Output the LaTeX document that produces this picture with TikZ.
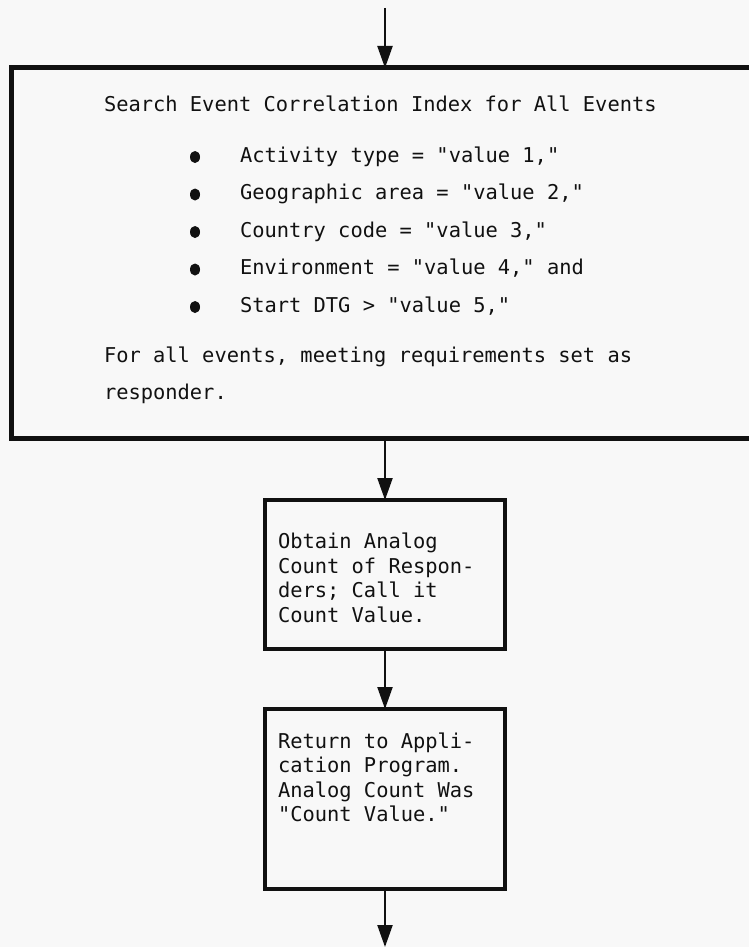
\documentclass[tikz,border=0pt]{standalone}
\usepackage{fontspec}
\setmonofont{DejaVu Sans Mono}
\usetikzlibrary{arrows.meta}
\definecolor{paper}{HTML}{F8F8F8}
\definecolor{ink}{HTML}{111111}
\tikzset{
  boxbig/.style={draw=ink, line width=5pt, rectangle, inner sep=0pt, outer sep=0pt},
  boxsmall/.style={draw=ink, line width=4pt, rectangle, inner sep=0pt, outer sep=0pt, minimum width=240pt},
  txt/.style={anchor=base west, inner sep=0pt, outer sep=0pt, text=ink, font=\fontsize{20.4pt}{24pt}\ttfamily},
  arr/.style={draw=ink, line width=2.2pt, -{Triangle[length=22pt, width=15pt]}},
  dotmark/.style={fill=ink}
}
\begin{document}
\begin{tikzpicture}[x=1pt, y=-1pt]
\useasboundingbox (0,0) rectangle (749,947);
\fill[paper] (0,0) rectangle (749,947);
\clip (0,0) rectangle (749,947);
% boxes
\node[boxbig, minimum width=790pt, minimum height=370pt] (box1) at (406,253) {};
\node[boxsmall, minimum height=149pt] (box2) at (385,574.5) {};
\node[boxsmall, minimum height=180pt] (box3) at (385,799) {};
% arrow endpoints
\coordinate (start) at (385,8);
\coordinate (finish) at (385,947);
% connectors
\draw[arr] (start) -- (start |- box1.north);
\draw[arr] (box1.south -| box2.north) -- (box2.north);
\draw[arr] (box2.south) -- (box3.north);
\draw[arr] (box3.south) -- (finish);
% big box text
\node[txt] (t1) at (104,112) {Search Event Correlation Index for All Events};
\node[txt] (b1) at (240,162) {Activity type = "value 1,"};
\node[txt] (b2) at (240,199.5) {Geographic area = "value 2,"};
\node[txt] (b3) at (240,237) {Country code = "value 3,"};
\node[txt] (b4) at (240,274.5) {Environment = "value 4," and};
\node[txt] (b5) at (240,312) {Start DTG > "value 5,"};
\foreach \yy in {157,194.5,232,269.5,307} {
  \fill[dotmark] (195,\yy) ellipse (5pt and 6pt);
}
\node[txt] (t2) at (104,362) {For all events, meeting requirements set as};
\node[txt] (t3) at (104,399) {responder.};
% box 2 text
\node[txt] (c1) at (278,548) {Obtain Analog};
\node[txt] (c2) at (278,573) {Count of Respon-};
\node[txt] (c3) at (278,597.5) {ders; Call it};
\node[txt] (c4) at (278,622) {Count Value.};
% box 3 text
\node[txt] (d1) at (278,748) {Return to Appli-};
\node[txt] (d2) at (278,772.5) {cation Program.};
\node[txt] (d3) at (278,797) {Analog Count Was};
\node[txt] (d4) at (278,821.5) {"Count Value."};
\end{tikzpicture}
\end{document}
